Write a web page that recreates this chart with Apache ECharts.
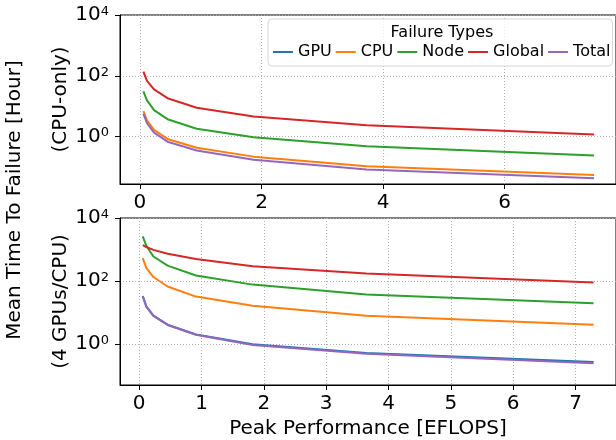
<!DOCTYPE html>
<html>
<head>
<meta charset="utf-8">
<script src="https://cdn.jsdelivr.net/npm/echarts@6/dist/echarts.min.js"></script>
<style>
  html, body { margin: 0; padding: 0; background: #fff; }
  #chart { width: 616px; height: 440px; }
</style>
</head>
<body>
<div id="chart"></div>
<script>
// legend order and matplotlib tab10 colours
const failureTypes = ['GPU', 'CPU', 'Node', 'Global', 'Total'];
const typeColors = ['#1f77b4', '#ff7f0e', '#2ca02c', '#d62728', '#9467bd'];

// top panel (CPU-only), MTTF in hours, no GPU line
const peakCpuOnly = [0.058, 0.117, 0.233, 0.467, 0.934, 1.87, 3.73, 7.47];
const cpuOnlyCpu = [6.92, 3.39, 1.66, 0.813, 0.427, 0.219, 0.105, 0.0545];
const cpuOnlyNode = [30.9, 15.5, 7.41, 3.63, 1.82, 0.955, 0.485, 0.238];
const cpuOnlyGlobal = [138, 67.6, 35.5, 17.8, 8.9, 4.57, 2.37, 1.17];
const cpuOnlyTotal = [5.62, 2.75, 1.35, 0.661, 0.347, 0.174, 0.0825, 0.0424];

// bottom panel (4 GPUs/CPU)
const peakGpu = [0.057, 0.114, 0.228, 0.456, 0.911, 1.82, 3.645, 7.29];
const gpuGpu = [33.9, 15.8, 8.13, 4.17, 2.04, 1.0, 0.53, 0.275];
const gpuCpu = [537, 263, 135, 67.6, 32.4, 16.6, 7.94, 4.17];
const gpuNode = [2630, 1318, 603, 309, 151, 77.6, 38.0, 20.0];
const gpuGlobal = [1380, 1202, 977, 741, 501, 295, 174, 90];
const gpuTotal = [33.1, 15.5, 7.94, 4.07, 2.0, 0.955, 0.5, 0.25];

const xTicksTop = [0, 2, 4, 6];
const xTicksBottom = [0, 1, 2, 3, 4, 5, 6, 7];
const yTickExponents = [0, 2, 4];

const chart = echarts.init(document.getElementById('chart'));

const FONT = 'DejaVu Sans';
const gridLine = { show: true, lineStyle: { color: '#b0b0b0', type: [1, 2], width: 1 } };

function xAxisCfg(gridIndex, min, max, ticks, splitNumber, name) {
  return {
    type: 'value',
    gridIndex,
    min,
    max,
    splitNumber,
    name,
    nameLocation: 'middle',
    nameGap: 34,
    nameMoveOverlap: false,
    nameTextStyle: { fontSize: 20, color: '#000', fontFamily: FONT },
    axisLine: { onZero: false, lineStyle: { color: '#000', width: 1 } },
    axisTick: { show: true, length: 5, customValues: ticks, lineStyle: { color: '#000' } },
    axisLabel: {
      customValues: ticks,
      margin: 9,
      fontSize: 20,
      color: '#000',
      fontFamily: FONT
    },
    splitLine: gridLine
  };
}

function yAxisCfg(gridIndex, minExp, name) {
  return {
    type: 'value',
    gridIndex,
    min: minExp,
    max: 4,
    splitNumber: 3,
    name,
    nameLocation: 'middle',
    nameRotate: 90,
    nameGap: 49,
    nameMoveOverlap: false,
    nameTextStyle: { fontSize: 20, color: '#000', fontFamily: FONT },
    axisLine: { onZero: false, lineStyle: { color: '#000', width: 1 } },
    axisTick: { show: true, length: 5, customValues: yTickExponents, lineStyle: { color: '#000' } },
    axisLabel: {
      customValues: yTickExponents,
      margin: 11,
      formatter: v => (Number.isInteger(v) ? '{b|10}{s|' + v + '}' : ''),
      rich: {
        b: { fontSize: 20, lineHeight: 20, color: '#000', fontFamily: FONT },
        s: { fontSize: 13, lineHeight: 13, color: '#000', fontFamily: FONT, padding: [0, 0, 7, 0] }
      }
    },
    splitLine: gridLine
  };
}

// y axes are drawn in log10 space: each value goes through Math.log10
function lineSeries(name, xs, ys, axisIndex) {
  return {
    name,
    type: 'line',
    xAxisIndex: axisIndex,
    yAxisIndex: axisIndex,
    symbol: 'none',
    smooth: false,
    color: typeColors[failureTypes.indexOf(name)],
    lineStyle: { width: 2 },
    data: xs.map((x, i) => [x, Math.log10(ys[i])])
  };
}

const option = {
  animation: false,
  textStyle: { fontFamily: FONT },
  grid: [
    { left: 120, top: 15, width: 499, height: 169, show: true, borderColor: '#000', borderWidth: 1 },
    { left: 120, top: 218, width: 499, height: 169, show: true, borderColor: '#000', borderWidth: 1 }
  ],
  xAxis: [
    xAxisCfg(0, -0.327, 7.83, xTicksTop, 4, ''),
    xAxisCfg(1, -0.308, 7.65, xTicksBottom, 8, 'Peak Performance [EFLOPS]')
  ],
  yAxis: [
    yAxisCfg(0, -1.56, '(CPU-only)'),
    yAxisCfg(1, -1.29, '(4 GPUs/CPU)')
  ],
  legend: {
    data: failureTypes,
    left: 268,
    top: 19,
    width: 345,
    padding: [25, 2, 6, 5],
    icon: 'rect',
    itemWidth: 20,
    itemHeight: 2,
    itemGap: 4,
    backgroundColor: 'rgba(255,255,255,0.8)',
    borderColor: '#d6d6d6',
    borderWidth: 1,
    borderRadius: 4,
    textStyle: { fontSize: 16, color: '#000', fontFamily: FONT, lineHeight: 16 }
  },
  graphic: [
    {
      type: 'text',
      z: 100,
      x: 442,
      y: 33,
      style: { text: 'Failure Types', font: '16px "DejaVu Sans"', fill: '#000', align: 'center', verticalAlign: 'middle' }
    },
    {
      type: 'text',
      z: 100,
      x: 15,
      y: 200,
      rotation: Math.PI / 2,
      style: { text: 'Mean Time To Failure [Hour]', font: '20px "DejaVu Sans"', fill: '#000', align: 'center', verticalAlign: 'middle' }
    }
  ],
  series: [
    lineSeries('CPU', peakCpuOnly, cpuOnlyCpu, 0),
    lineSeries('Node', peakCpuOnly, cpuOnlyNode, 0),
    lineSeries('Global', peakCpuOnly, cpuOnlyGlobal, 0),
    lineSeries('Total', peakCpuOnly, cpuOnlyTotal, 0),
    lineSeries('GPU', peakGpu, gpuGpu, 1),
    lineSeries('CPU', peakGpu, gpuCpu, 1),
    lineSeries('Node', peakGpu, gpuNode, 1),
    lineSeries('Global', peakGpu, gpuGlobal, 1),
    lineSeries('Total', peakGpu, gpuTotal, 1)
  ]
};

chart.setOption(option);
</script>
</body>
</html>
